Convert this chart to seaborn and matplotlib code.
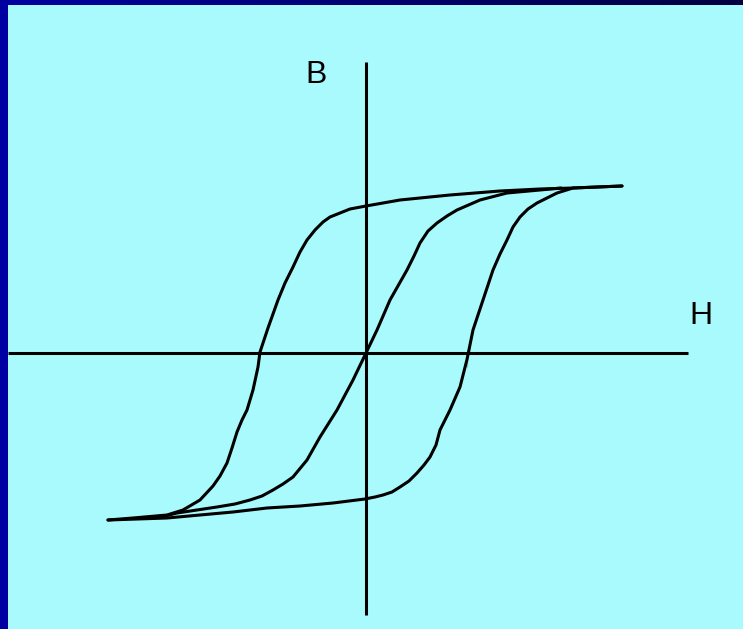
import numpy as np
import pandas as pd
import matplotlib
matplotlib.use("Agg")
import matplotlib.pyplot as plt
import seaborn as sns

# hysteresis loop (H, B in arbitrary units)
upper_H = [2.56, 2.07, 1.74, 1.34, 0.84, 0.34, 0.0, -0.16, -0.26, -0.36, -0.43, -0.51,
           -0.59, -0.66, -0.73, -0.81, -0.88, -0.98, -1.06, -1.08, -1.13, -1.19, -1.24,
           -1.29, -1.34, -1.39, -1.46, -1.53, -1.66, -1.83, -1.99, -2.33, -2.58]
upper_B = [1.67, 1.65, 1.64, 1.62, 1.58, 1.53, 1.47, 1.44, 1.40, 1.36, 1.31, 1.23,
           1.13, 1.01, 0.86, 0.70, 0.53, 0.25, 0.01, -0.14, -0.37, -0.57, -0.67,
           -0.79, -0.95, -1.10, -1.23, -1.33, -1.47, -1.57, -1.62, -1.65, -1.67]

lower_H = [-2.58, -1.99, -1.66, -1.33, -0.99, -0.66, -0.33, -0.01, 0.09, 0.17, 0.26,
           0.34, 0.43, 0.51, 0.58, 0.64, 0.70, 0.74, 0.84, 0.94, 1.01, 1.01, 1.07, 1.17,
           1.27, 1.34, 1.41, 1.47, 1.54, 1.62, 1.71, 1.91, 2.07, 2.56]
lower_B = [-1.67, -1.65, -1.62, -1.59, -1.55, -1.53, -1.50, -1.46, -1.44, -1.42, -1.39,
           -1.34, -1.28, -1.20, -1.12, -1.04, -0.92, -0.77, -0.57, -0.34, -0.14, 0.01,
           0.23, 0.53, 0.83, 0.99, 1.13, 1.26, 1.36, 1.44, 1.50, 1.60, 1.65, 1.67]

# initial magnetisation curve through the origin
init_H = [-2.05, -1.89, -1.49, -1.31, -1.16, -1.04, -0.93, -0.83, -0.73, -0.59, -0.46,
          -0.29, -0.13, 0.0, 0.11, 0.24, 0.41, 0.48, 0.54, 0.62, 0.71, 0.81, 0.91, 1.14,
          1.41, 1.74, 1.95]
init_B = [-1.64, -1.60, -1.54, -1.51, -1.47, -1.43, -1.37, -1.31, -1.24, -1.07, -0.84,
          -0.57, -0.27, 0.0, 0.23, 0.53, 0.83, 0.97, 1.10, 1.22, 1.30, 1.37, 1.43, 1.53,
          1.60, 1.63, 1.65]

# extent of the two axis lines
h_axis = [-3.58, 3.22]
b_axis = [-2.62, 2.91]

bg = "#a9fafc"

sns.set_style("white")
plt.rcParams["font.family"] = ["Liberation Sans", "DejaVu Sans"]

fig = plt.figure(figsize=(7.43, 6.29), dpi=100)
fig.patch.set_facecolor(bg)
ax = fig.add_axes([0, 0, 1, 1])
ax.set_facecolor(bg)

loop = pd.concat([
    pd.DataFrame({"H": upper_H, "B": upper_B, "branch": "upper"}),
    pd.DataFrame({"H": lower_H, "B": lower_B, "branch": "lower"}),
    pd.DataFrame({"H": init_H, "B": init_B, "branch": "initial"}),
])
for name, part in loop.groupby("branch"):
    sns.lineplot(data=part, x="H", y="B", sort=False, color="black", lw=2.2,
                 solid_joinstyle="round", ax=ax, legend=False)

# the H and B axes
ax.plot(h_axis, [0, 0], color="black", lw=2.2, solid_capstyle="butt")
ax.plot([0, 0], b_axis, color="black", lw=2.2, solid_capstyle="butt")

ax.text(-0.50, 2.78, "B", fontsize=23, color="black", ha="center", va="center")
ax.text(3.35, 0.37, "H", fontsize=23, color="black", ha="center", va="center")

ax.set_xlim(-3.66, 3.77)
ax.set_ylim(-2.76, 3.53)
ax.set_axis_off()

# dark blue frame on the left and top
left = fig.add_axes([0, 0, 8 / 743, 1])
left.set_facecolor("#0000a2")
left.set_xticks([])
left.set_yticks([])
for s in left.spines.values():
    s.set_visible(False)

top = fig.add_axes([0, 1 - 5 / 629, 1, 5 / 629])
grad = np.linspace(0, 1, 256).reshape(1, -1)
cmap = matplotlib.colors.LinearSegmentedColormap.from_list("edge", ["#0000a2", "#000040"])
top.imshow(grad, aspect="auto", cmap=cmap)
top.set_axis_off()

fig.savefig("out.png", dpi=100, facecolor=bg)
